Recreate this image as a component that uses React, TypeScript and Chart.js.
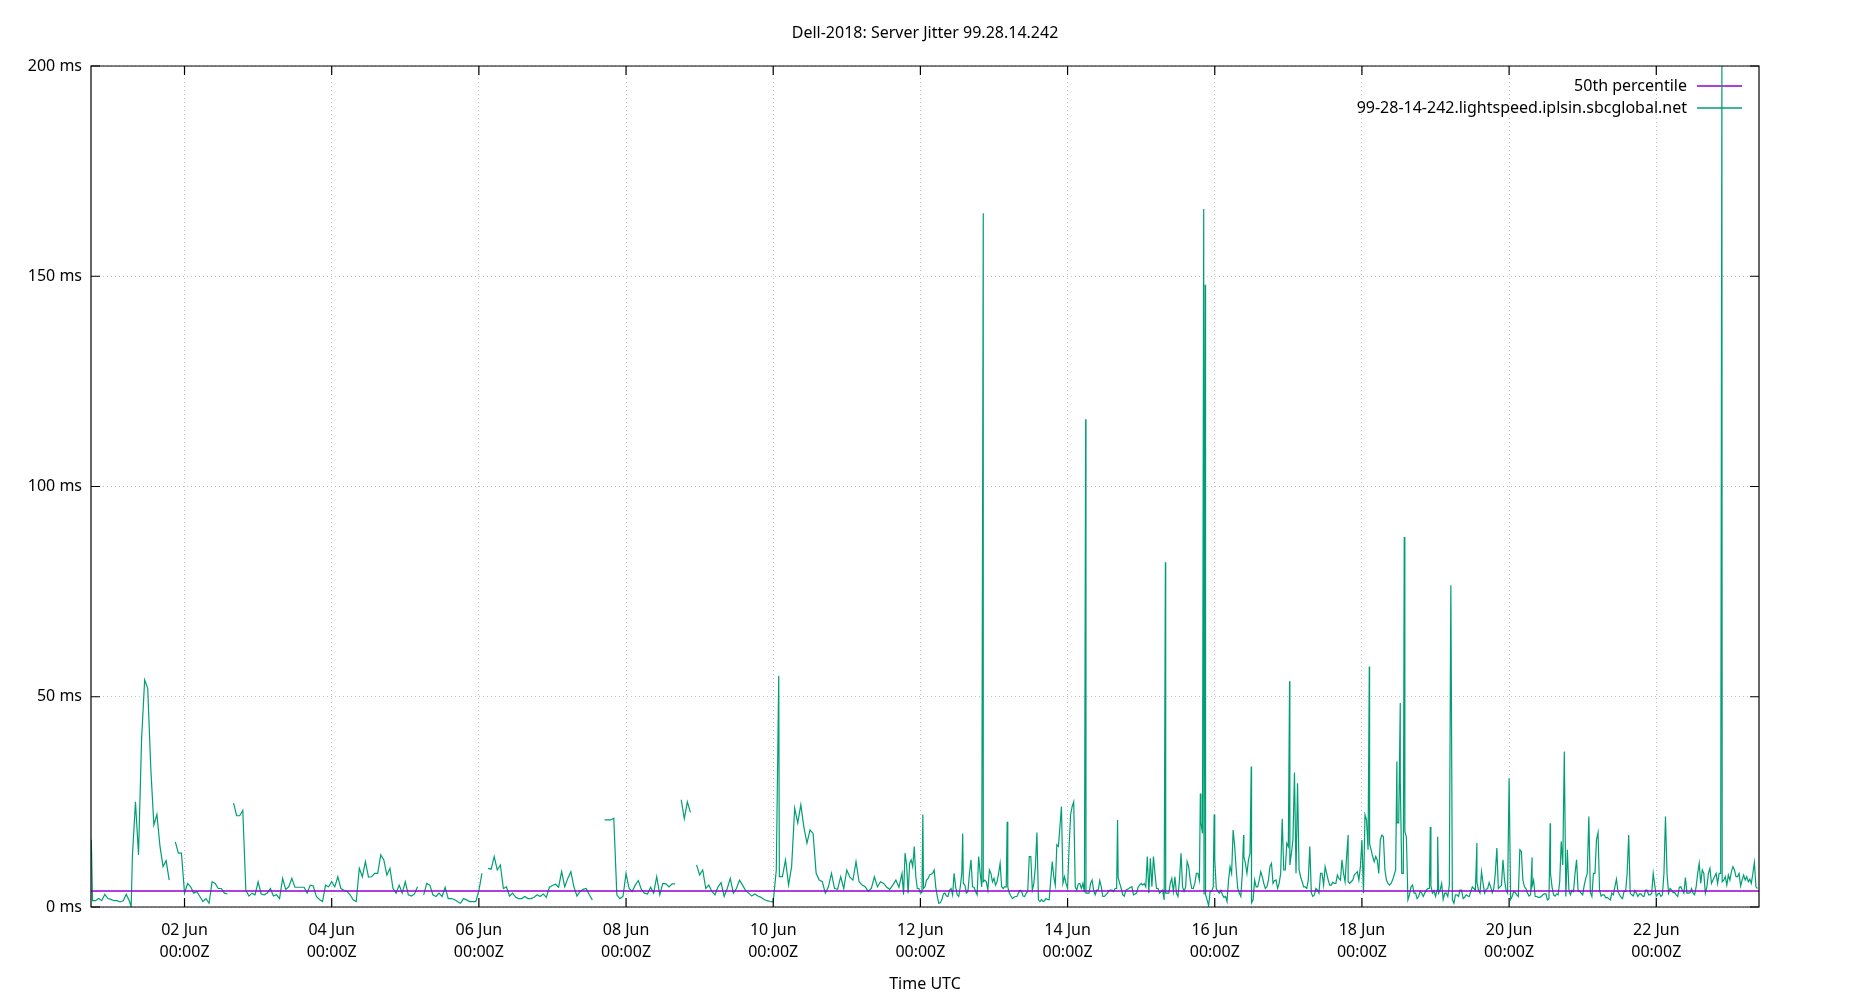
import React, { useEffect, useRef } from "react";
import { Chart, registerables } from "chart.js";

Chart.register(...registerables);

const CHART_TITLE = "Dell-2018: Server Jitter 99.28.14.242";
const HOST_LABEL = "99-28-14-242.lightspeed.iplsin.sbcglobal.net";
const MEDIAN_LABEL = "50th percentile";
const X_AXIS_TITLE = "Time UTC";

// x values are hours since 31 May 00:00Z
const X_MIN_HOUR = 17.5;
const X_MAX_HOUR = 561.5;
const tickHours = [48, 96, 144, 192, 240, 288, 336, 384, 432, 480, 528];
const tickDays = ["02 Jun", "04 Jun", "06 Jun", "08 Jun", "10 Jun", "12 Jun", "14 Jun", "16 Jun", "18 Jun", "20 Jun", "22 Jun"];
const tickTime = "00:00Z";
const yTicksMs = [0, 50, 100, 150, 200];
const Y_MAX_MS = 200;

const medianMs = 3.8;

// hourly jitter samples (ms), first sample at hour 18 (31 May 18:00Z); null = no data
const firstSampleHour = 18;
const jitterHourlyMs: (number | null)[] = [
  1.5, 1.5, 2, 1.5, 3, 2, 1.8, 1.5, 1.5, 1.2,
  1.5, 3, 1.5, 12, 25, 12.4, 40, 54, 52, 33,
  19.5, 22, 14.4, 9.6, 11, 6.4, null, 15.5, 12.8, 12.8,
  3.3, 5.6, 4.8, 3.3, 3.7, 2.5, 1.3, 2, 0.9, 6,
  5.6, 4.4, 4.4, 3.3, 3.1, null, 24.7, 21.7, 21.7, 23,
  4, 2.6, 3.3, 2.9, 6, 3.1, 2.9, 3.3, 4.4, 2.6,
  2.9, 2, 6.8, 4.2, 4.8, 6.8, 4.7, 4.7, 4.7, 4.7,
  3.3, 5.2, 5, 2.5, 1.8, 1.3, 5.2, 4.8, 6, 4.8,
  7.2, 4.4, 4, 3.7, 2.9, 1.7, 1.3, 9.2, 7.2, 10.8,
  7.1, 7.2, 8, 8, 12.4, 11.2, 7.6, 9.2, 4.4, 3.3,
  5.2, 3.3, 6, 2.9, 2.6, 3.1, 4.8, null, 2.9, 5.6,
  5.2, 2.9, 2.5, 3.3, 2.5, 4.7, 2, 2, 1.8, 1.3,
  0.9, 2, 1.7, 1.3, 1.3, 1.3, 3.9, 8, null, 9.2,
  9, 12, 8.8, 10, 4.4, 4.8, 2.6, 3.3, 2.3, 2,
  2, 2.5, 2, 2, 2.3, 2.9, 2.5, 3.1, 2.3, 4.7,
  5.1, 5.4, 4.7, 8.4, 4.8, 6.8, 8.4, 4.8, 2.6, 3.7,
  4.2, 4.4, 2.9, 1.7, null, 6.7, null, 20.7, 20.7, 20.7,
  21.1, 2.9, 2, 2.5, 8, 4.4, 3.7, 5.2, 6.3, 4.2,
  3.3, 3.1, 4.7, 3.3, 7.2, 2.9, 5.6, 5.5, 4.8, 5.5,
  5.5, null, 25.5, 21, 25, 22.5, null, 10, 7.6, 8.8,
  4.4, 5.2, 3.7, 2.9, 4.8, 5.8, 2.5, 4.4, 6.8, 3.3,
  4.4, 6.4, 5.2, 3.9, 3.3, 2.6, 3.1, 2.6, 2.3, 1.8,
  1.5, 1.3, 1.2, 8.8, 7.2, 7.2, 11.2, 5.2, 9.6, 23.5,
  20, 24.3, 19, 15.2, 18.3, 17.5, 8, 6.4, 6, 3.3,
  4.8, 8, 4.4, 4.2, 7.2, 4.4, 8.8, 7.1, 6.4, 10.8,
  6, 5.2, 4.8, 3.7, 4.4, 7.2, 4.8, 6, 5.6, 4.7,
  4.2, 5.2, 6.4, 4.7, 8, 12.8, 3.3, 11.2, 14.4, 4.4,
  3.3, 4.4, 6.4, 7.6, 8, 4.8, 0.9, 1.7, 3.3, 2.5,
  4.4, 8, 2.9, 4.8, 5.6, 3.3, 8, 4.8, 3.7, 12,
  4.8, 6.4, 4, 8, 6.8, 6, 10.4, 4.4, 4.8, 3.3,
  2, 2.5, 3.3, 3.7, 2.5, 3.7, 12, 5.6, 17.7, 1.3,
  1.3, 2, 1.7, 10.8, 5.2, 14.4, 23.9, 7.2, 4.4, 22,
  25, 4, 5.6, 5.6, 3.3, 3.3, 6.4, 2.9, 4, 4.8,
  2.5, 3.3, 4, 3.7, 4.4, 5.6, 2.9, 4, 4.4, 4.8,
  3.1, 4.7, 5.6, 5.6, 12, 11.6, 12, 4.4, 3.3, 4,
  3.3, 3.3, 6.8, 7.2, 2.5, 12.8, 3.7, 10.8, 6.4, 4.4,
  8, 6.4, 17.5, 3, 0.3, 3.7, 11.2, 3.7, 4, 2.3,
  1.3, 9.6, 18.3, 8.8, 3.3, 8, 10.4, 11.2, 1, 6.4,
  4.8, 8.4, 5.6, 4.8, 9.6, 5.6, 6.4, 5.6, 21, 8.8,
  14.4, 12.8, 32, 29.4, 7.2, 4.8, 4.4, 14.4, 2.5, 4.4,
  3.3, 8, 9.6, 6.4, 5.2, 5.6, 7.6, 6.4, 8, 12,
  5.6, 6.4, 8, 6.4, 15.9, 21.9, 13.6, 13.6, 10.8, 11.2,
  16, 16.7, 6.4, 5.2, 6.4, 8.8, 20, 8, 17.9, 1.7,
  4.8, 3.3, 2, 3.7, 2.5, 4, 4.4, 3.3, 2.5, 3.3,
  5.6, 3.3, 2.5, 76.5, 0.9, 2.9, 4, 2, 2.9, 2.5,
  4.8, 4, 4, 8.4, 3.3, 4.4, 4.8, 4.4, 14, 4.8,
  11.2, 4, 30.6, 2.5, 3.4, 2.5, 13.2, 4.8, 3.3, 2.9,
  6.4, 2.5, 2.3, 2.9, 3.1, 2, 4.8, 2.6, 2.9, 15.6,
  37, 13.6, 2.9, 3.7, 11.2, 3.7, 2.9, 6.8, 21.5, 2.5,
  8, 17.7, 2.6, 2.9, 2.3, 1.7, 2.9, 6.6, 2.9, 2,
  3.7, 17.1, 2.9, 3.9, 2.5, 3.1, 2.5, 4, 2.9, 8,
  2.5, 3.3, 2.9, 21.5, 3.3, 4, 3.4, 2.5, 4.8, 3.3,
  3.3, 3.4, 3.3, 4.8, 10.4, 8.8, 3.3, 8, 5.6, 7.2,
  5.6, 8, 6.4, 5.2, 6.4, 9.6, 7.2, 8, 6.4, 6.4,
  6, 5.6, 10.6, 4.4,
];

// extra half-hour samples (ms) for the busier period, first at hour 282.5 (11 Jun 18:30Z)
const firstHalfHour = 282.5;
const jitterHalfHourMs: number[] = [
  2.9, 10, 10.4, 9.6, 7.2, 4.4, 3.5, 4.8, 6.8, 7.8,
  8.8, 2.5, 1, 3.1, 2.6, 4, 2.9, 4.8, 2.5, 8,
  5.2, 3.7, 11.2, 4.7, 2.9, 8, 6, 6, 8.8, 6,
  5.2, 8, 4.8, 4.8, 4.8, 2.6, 2.3, 2.5, 4, 2.6,
  3.3, 12, 4, 9.6, 1.7, 1.8, 1.5, 1.8, 6.4, 7.2,
  14.8, 19, 5.6, 5.6, 14.4, 23.9, 4.8, 5.5, 4.4, 3.5,
  3.3, 5.6, 4, 4, 6.3, 2.5, 2.9, 3.9, 4, 4.4,
  7, 4.4, 2.6, 4.2, 4.7, 2.9, 3.3, 5.2, 5.2, 4.8,
  3.3, 4.8, 8, 4.4, 3.7, 1.7, 3.3, 5.6, 3.7, 3.3,
  6.4, 4.8, 4.8, 9.6, 4.4, 5.6, 8, 20, 3, 1.7,
  3.7, 4.8, 4.4, 3.3, 2.9, 2.5, 6.4, 8, 14.4, 4.4,
  2.5, 12, 8, 12.8, 1.7, 4.8, 6.4, 7.2, 4.4, 6.3,
  10.4, 6.3, 4.4, 8, 8.8, 15.2, 10, 16, 8, 8.8,
  6, 4.8, 6.4, 3.3, 2.9, 4, 8, 5.2, 8, 5.2,
  5.9, 5.6, 6.8, 11.2, 6, 6, 6, 7.6, 8.4, 9.6,
  3.3, 20.7, 15, 12, 12, 8, 17.1, 8.8, 5.6, 5.6,
  7.6, 20, 30, 8, 16.7, 2.9, 5.2, 3.3, 2.5, 3.3,
  3.3, 4.4, 5, 3.9, 4, 4, 1.8, 3.3, 5.2, 1.7,
  2.9, 2.5, 4, 2.3, 2.6, 3.7, 4.4, 6, 3.3, 5.6,
  4.2, 5.8, 3.4, 8, 4.4, 5.1, 6.4, 3.3, 1.8, 3.7,
  2.9, 13.6, 6.4, 4.4, 2.6, 5, 2.5, 2.3, 2.5, 3.1,
  1.7, 8, 2.9, 3.1, 6, 10, 2.5, 4, 4, 8,
  3.9, 3.3, 5.2, 8, 3.4, 8, 16, 4, 2.9, 2.2,
  2, 3.3, 4.8, 3.7, 2.3, 3.7, 8, 3.3, 2.6, 3.3,
  3.1, 2.6, 4, 2.9, 3.3, 5.2, 3.1, 2.5, 8, 8,
  4.4, 3.4, 2.9, 4.7, 4, 7, 3.3, 4.4, 2.9, 8,
  5.6, 8, 4.8, 9.2, 6.4, 8, 8, 6, 7.2, 7.6,
  8.4, 8.8, 7.2, 5, 7.6, 7.2, 6.6, 8, 4.8,
];

// short-lived samples between the regular ones (hour, ms)
const spikeHours = [
  17.6, 30.6, 241.8, 288.8, 301.8, 308.5, 316.3, 341.9, 352.3, 367.9,
  379.3, 380.4, 380.9, 383.8, 393.4, 395.9, 408.4, 427.5, 434.4, 443.4,
  444.5, 445.8, 454.3, 456.7, 469.5, 487.5, 493.4, 549.4,
];
const spikeMs = [
  16, 0, 55, 22, 17.5, 165, 20.3, 116, 20.7, 82,
  27, 166, 148, 22, 17.1, 33.4, 53.7, 17.1, 57.2, 34.6,
  48.5, 88, 19, 16.7, 15.2, 11.8, 19.9, 200,
];

const GREEN = "#009e73";
const PURPLE = "#9400d3";
const FONT = "'Noto Sans', 'DejaVu Sans', sans-serif";

function buildPoints() {
  const pts: { x: number; y: number | null }[] = jitterHourlyMs.map((v, i) => ({ x: firstSampleHour + i, y: v }));
  spikeHours.forEach((h, i) => pts.push({ x: h, y: spikeMs[i] }));
  jitterHalfHourMs.forEach((v, i) => pts.push({ x: firstHalfHour + i, y: v }));
  pts.sort((a, b) => a.x - b.x);
  return pts;
}

const framePlugin = {
  id: "gnuFrame",
  afterDatasetsDraw(chart: any) {
    const { ctx, chartArea } = chart;
    const { left, right, top, bottom } = chartArea;
    const xs = chart.scales.x;
    const ys = chart.scales.y;
    ctx.save();
    ctx.strokeStyle = "#000";
    ctx.lineWidth = 1.2;
    ctx.beginPath();
    ctx.rect(left, top, right - left, bottom - top);
    ctx.stroke();
    const tl = 9;
    ctx.beginPath();
    tickHours.forEach((h) => {
      const px = xs.getPixelForValue(h);
      ctx.moveTo(px, bottom);
      ctx.lineTo(px, bottom - tl);
      ctx.moveTo(px, top);
      ctx.lineTo(px, top + tl);
    });
    yTicksMs.forEach((v) => {
      const py = ys.getPixelForValue(v);
      ctx.moveTo(left, py);
      ctx.lineTo(left + tl, py);
      ctx.moveTo(right, py);
      ctx.lineTo(right - tl, py);
    });
    ctx.stroke();
    ctx.restore();
  },
};

const keyPlugin = {
  id: "gnuKey",
  beforeDatasetsDraw(chart: any) {
    const { ctx, chartArea } = chart;
    const textRight = chartArea.right - 72;
    const lineStart = chartArea.right - 62;
    const lineEnd = chartArea.right - 17;
    const rows = [
      { label: MEDIAN_LABEL, color: PURPLE, y: chartArea.top + 20 },
      { label: HOST_LABEL, color: GREEN, y: chartArea.top + 42 },
    ];
    ctx.save();
    ctx.font = `16px ${FONT}`;
    ctx.fillStyle = "#000";
    ctx.textAlign = "right";
    ctx.textBaseline = "middle";
    rows.forEach((r) => {
      ctx.fillText(r.label, textRight, r.y);
      ctx.strokeStyle = r.color;
      ctx.lineWidth = 1.3;
      ctx.beginPath();
      ctx.moveTo(lineStart, r.y);
      ctx.lineTo(lineEnd, r.y);
      ctx.stroke();
    });
    ctx.restore();
  },
};

export default function App() {
  const canvasRef = useRef<HTMLCanvasElement | null>(null);

  useEffect(() => {
    if (!canvasRef.current) return;
    const chart = new Chart(canvasRef.current, {
      type: "line",
      data: {
        datasets: [
          {
            label: MEDIAN_LABEL,
            data: [
              { x: X_MIN_HOUR, y: medianMs },
              { x: X_MAX_HOUR, y: medianMs },
            ],
            borderColor: PURPLE,
            borderWidth: 1.3,
            pointRadius: 0,
          },
          {
            label: HOST_LABEL,
            data: buildPoints() as any,
            borderColor: GREEN,
            borderWidth: 1.2,
            pointRadius: 0,
            spanGaps: false,
            tension: 0,
          },
        ],
      },
      options: {
        animation: false,
        responsive: false,
        devicePixelRatio: 1,
        events: [],
        layout: { padding: { left: 0, right: 0, top: 0, bottom: 0 } },
        plugins: {
          legend: { display: false },
          tooltip: { enabled: false },
          title: {
            display: true,
            text: CHART_TITLE,
            color: "#000",
            font: { family: FONT, size: 16, weight: "normal", lineHeight: 1.375 },
            padding: { top: 22, bottom: 22 },
          },
        },
        scales: {
          x: {
            type: "linear",
            min: X_MIN_HOUR,
            max: X_MAX_HOUR,
            afterBuildTicks: (scale: any) => {
              scale.ticks = tickHours.map((v) => ({ value: v }));
            },
            afterFit: (scale: any) => {
              scale.height = 93;
            },
            ticks: {
              autoSkip: false,
              maxRotation: 0,
              color: "#000",
              padding: 12,
              font: { family: FONT, size: 16, lineHeight: 1.375 },
              callback: (_v: any, i: number) => [tickDays[i], tickTime],
            },
            grid: { color: "#c4c4c4", lineWidth: 1, drawTicks: false },
            border: { display: false, dash: [1, 3] },
            title: {
              display: true,
              text: X_AXIS_TITLE,
              color: "#000",
              font: { family: FONT, size: 16, lineHeight: 1.375 },
              padding: { top: 0, bottom: 5 },
            },
          },
          y: {
            type: "linear",
            position: "left",
            min: 0,
            max: Y_MAX_MS,
            afterBuildTicks: (scale: any) => {
              scale.ticks = yTicksMs.map((v) => ({ value: v }));
            },
            afterFit: (scale: any) => {
              scale.width = 91;
            },
            ticks: {
              color: "#000",
              padding: 9,
              font: { family: FONT, size: 16 },
              callback: (v: any) => `${v} ms`,
            },
            grid: { color: "#c4c4c4", lineWidth: 1, drawTicks: false },
            border: { display: false, dash: [1, 3] },
          },
          yRight: {
            type: "linear",
            position: "right",
            min: 0,
            max: Y_MAX_MS,
            afterFit: (scale: any) => {
              scale.width = 91;
            },
            ticks: { display: false },
            grid: { display: false, drawTicks: false },
            border: { display: false },
          },
        },
      } as any,
      plugins: [keyPlugin, framePlugin],
    });
    return () => chart.destroy();
  }, []);

  return (
    <div style={{ position: "absolute", left: 0, top: 0, width: 1850, height: 1000, background: "#fff" }}>
      <canvas ref={canvasRef} width={1850} height={1000} style={{ display: "block" }} />
    </div>
  );
}
